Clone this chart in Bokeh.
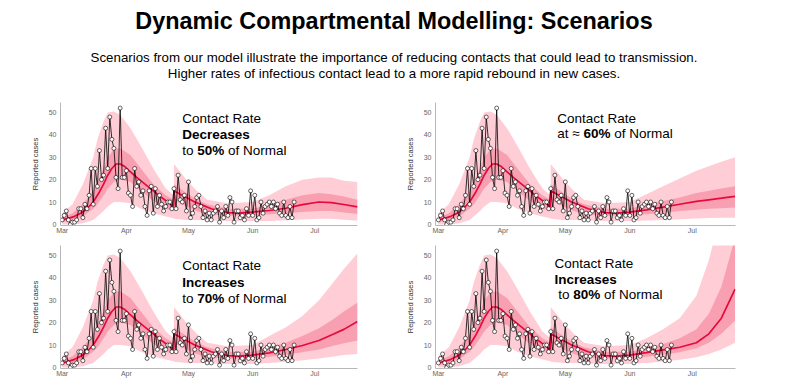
from bokeh.plotting import figure
from bokeh.layouts import column, row
from bokeh.models import Range1d, FixedTicker, Label
from bokeh.embed import file_html
from bokeh.resources import INLINE

FONT = "Liberation Sans"

TITLE = "Dynamic Compartmental Modelling: Scenarios"
SUB1 = "Scenarios from our model illustrate the importance of reducing contacts that could lead to transmission."
SUB2 = "Higher rates of infectious contact lead to a more rapid rebound in new cases."

# x axis: days since 1 March
month_ticks = [0, 31, 61, 92, 122]
month_labels = ["Mar", "Apr", "May", "Jun", "Jul"]
y_ticks = [0, 10, 20, 30, 40, 50]

# observed daily reported cases (1 Mar - 21 Jun)
obs_cases = [2, 4, 6, 2, 0, 1, 1, 2, 7, 7,
             3, 9, 7, 13, 25, 9, 25, 17, 33, 20,
             22, 43, 25, 48, 38, 34, 21, 16, 52, 21,
             21, 24, 14, 13, 8, 25, 17, 19, 13, 15,
             8, 4, 15, 17, 5, 16, 8, 13, 9, 6,
             8, 10, 10, 7, 16, 7, 22, 11, 10, 13,
             6, 19, 3, 5, 8, 12, 13, 8, 3, 6,
             2, 5, 2, 5, 6, 8, 1, 6, 3, 8,
             4, 12, 10, 1, 6, 6, 3, 4, 2, 7,
             4, 15, 4, 13, 2, 3, 10, 5, 8, 9,
             10, 8, 10, 7, 9, 5, 4, 10, 4, 3,
             8, 3, 10]
obs_days = list(range(len(obs_cases)))

# fitted part shared by all scenarios (model bands)
band_days = [0, 5, 10, 15, 17, 20, 22, 25, 28, 33, 38, 44, 50, 53.9, 54, 60, 65, 70, 80]
outer_hi_fit = [5, 9, 18, 30, 38, 46, 50, 50.5, 49, 43, 35, 25, 16, 13, 27, 20, 15, 11, 9.5]
inner_hi_fit = [3, 5, 9, 15, 19, 25, 30, 33.5, 34, 31, 25, 18, 13, 11, 18, 14, 11, 9, 7]
inner_lo_fit = [1, 2, 3.5, 7, 9, 13, 16, 19, 20, 19, 15, 10.5, 7, 6, 11, 8, 6, 4.5, 4]
outer_lo_fit = [0, 0, 0.5, 2, 3.5, 6, 8, 10, 10, 9.5, 7, 5, 3.5, 2.7, 2.5, 2, 2, 1.8, 1.5]

median_days = [0, 3, 6, 9, 12, 15, 18, 20, 22, 24, 26, 28, 30, 33, 36, 40, 44, 48, 52,
               53.9, 54, 57, 60, 64, 68, 72, 76, 80, 85]
median_fit = [2, 2.7, 3.6, 5, 7, 10, 14.5, 18, 22, 25, 27, 27, 26, 23.5, 21, 18, 15, 12, 9.3,
              8, 15, 13.5, 12, 10, 8.5, 7, 6, 5.3, 5]

# projections per scenario
tail_days = [92, 100, 108, 116, 124, 130, 136, 142.6]

s50_median = [5.5, 6.2, 7.2, 8.8, 10, 9.7, 8.9, 7.8]
s50_outer_hi = [10, 13, 17, 20, 21, 21, 19.5, 19]
s50_inner_hi = [7, 9, 11, 13, 14, 13.5, 12.5, 11]
s50_inner_lo = [4, 4.5, 5, 5.5, 6, 6, 5.3, 4.6]
s50_outer_lo = [1.5, 1.5, 1.8, 2.2, 2.5, 2.5, 2.1, 1.6]

s60_median = [5.5, 6.5, 7.7, 9, 10.3, 11, 11.7, 12.5]
s60_outer_hi = [10, 13.5, 17, 20.5, 24, 26, 28, 30]
s60_inner_hi = [7, 9, 10.5, 12, 14, 15, 16, 17]
s60_inner_lo = [4, 4.5, 5.2, 6, 6.5, 7, 7.2, 7.5]
s60_outer_lo = [1.5, 1.7, 2, 2.3, 2.6, 2.8, 3, 3]

s70_median = [5.5, 6.5, 8, 9.8, 12, 14.5, 17, 20.5]
s70_outer_hi = [10, 14, 18, 23, 30, 37, 44, 51]
s70_inner_hi = [7, 9, 11, 14, 17.5, 21, 25, 29]
s70_inner_lo = [4, 4.8, 5.7, 6.8, 8, 9.5, 10.8, 12]
s70_outer_lo = [1.5, 2, 2.5, 3.2, 4, 4.8, 5.5, 6]

s80_median = [5.5, 6.6, 7.8, 9, 11, 15, 22, 35]
s80_outer_hi = [10, 13, 17, 22, 32, 48, 70, 100]
s80_inner_hi = [7, 8.5, 10.5, 13, 17, 24, 36, 58]
s80_inner_lo = [4, 4.8, 5.7, 6.8, 8.5, 11, 15, 21]
s80_outer_lo = [1.5, 2, 2.6, 3.4, 4.5, 6, 8, 11]

OUTER_COL = "#ffcdd6"
INNER_COL = "#f8a0b2"
LINE_COL = "#e8093a"
AXIS_COL = "#b8b8b8"
LABEL_COL = "#666666"

FRAME_H = 123
Y0, Y1 = -0.5, 54.5
TXT = 13.5
SPACE = 0.278 * TXT


def panel(med, ohi, ihi, ilo, olo, frame_left, frame_top, width, mbl, mbr, mbt,
          x0, x1, lines):
    p = figure(frame_width=width, frame_height=FRAME_H,
               x_range=Range1d(x0, x1), y_range=Range1d(Y0, Y1),
               output_backend="svg", toolbar_location=None,
               min_border_left=mbl, min_border_right=mbr,
               min_border_top=mbt, min_border_bottom=13,
               background_fill_color="white", border_fill_color="white")
    p.outline_line_color = None
    p.grid.visible = False

    bd = band_days + tail_days
    p.varea(x=bd, y1=outer_lo_fit + olo, y2=outer_hi_fit + ohi, fill_color=OUTER_COL)
    p.varea(x=bd, y1=inner_lo_fit + ilo, y2=inner_hi_fit + ihi, fill_color=INNER_COL)
    p.line(median_days + tail_days, median_fit + med, line_color=LINE_COL, line_width=1.7)
    p.line(obs_days, obs_cases, line_color="black", line_width=0.8)
    p.scatter(obs_days, obs_cases, size=4.0, fill_color="white", line_color="black",
              line_width=0.6)

    p.xaxis.ticker = FixedTicker(ticks=month_ticks)
    p.xaxis.major_label_overrides = {t: l for t, l in zip(month_ticks, month_labels)}
    p.yaxis.ticker = FixedTicker(ticks=y_ticks)
    for ax in (p.xaxis[0], p.yaxis[0]):
        ax.axis_line_color = AXIS_COL
        ax.major_tick_line_color = None
        ax.minor_tick_line_color = None
        ax.major_tick_out = 0
        ax.major_tick_in = 0
        ax.minor_tick_out = 0
        ax.minor_tick_in = 0
        ax.major_label_text_font = FONT
        ax.major_label_text_font_size = "7px"
        ax.major_label_text_color = LABEL_COL
    p.xaxis.major_label_standoff = 1
    p.yaxis.major_label_standoff = 4
    p.yaxis.axis_label = "Reported cases"
    p.yaxis.axis_label_text_font = FONT
    p.yaxis.axis_label_text_font_size = "7.5px"
    p.yaxis.axis_label_text_font_style = "normal"
    p.yaxis.axis_label_text_color = "#333333"
    p.yaxis.axis_label_standoff = 6

    def to_data(px, py):
        dx = x0 + (px - frame_left) / width * (x1 - x0)
        dy = Y1 - (py - frame_top) / FRAME_H * (Y1 - Y0)
        return dx, dy

    for (px, py, segs) in lines:
        dx, dy = to_data(px, py)
        for (txt, bold, off) in segs:
            p.add_layout(Label(x=dx, y=dy, x_offset=off, text=txt,
                               text_font=FONT, text_font_size=f"{TXT}px",
                               text_font_style="bold" if bold else "normal",
                               text_color="black", text_align="left",
                               text_baseline="middle"))
    return p


# header
HDR_H = 96
hdr = figure(frame_width=787 - 16, frame_height=HDR_H, x_range=Range1d(0, 771),
             y_range=Range1d(0, HDR_H),
             output_backend="svg", toolbar_location=None, min_border=0,
             x_axis_type=None, y_axis_type=None)
hdr.outline_line_color = None
hdr.grid.visible = False
hdr.add_layout(Label(x=393.5, y=HDR_H - 20, text=TITLE, text_font=FONT, text_font_size="23.4px",
                     text_font_style="bold", text_align="center", text_baseline="middle",
                     text_color="black"))
hdr.add_layout(Label(x=393.5, y=HDR_H - 57, text=SUB1, text_font=FONT, text_font_size="13.3px",
                     text_align="center", text_baseline="middle", text_color="black"))
hdr.add_layout(Label(x=393.5, y=HDR_H - 73, text=SUB2, text_font=FONT, text_font_size="13.3px",
                     text_align="center", text_baseline="middle", text_color="black"))

# text segments: (page x, page y, [(text, bold, x offset)])
to_w = (0.278 + 0.556 + 0.278) * TXT       # "to "
pct_w = (0.556 + 0.556 + 0.889) * TXT     # "50%" bold
at_w = (0.556 + 0.278 + 0.278 + 0.549 + 0.278) * TXT  # "at ≈ "
tl_lines = [(181.7, 117.5, [("Contact Rate", False, 0)]),
            (181.7, 133.5, [("Decreases", True, 0)]),
            (181.7, 149.5, [("to", False, 0), ("50%", True, to_w),
                            ("of Normal", False, to_w + pct_w + SPACE)])]
tr_lines = [(556.7, 117.5, [("Contact Rate", False, 0)]),
            (556.7, 133.0, [("at \u2248", False, 0), ("60%", True, at_w),
                            ("of Normal", False, at_w + pct_w + SPACE)])]
bl_lines = [(181.7, 265.0, [("Contact Rate", False, 0)]),
            (181.7, 281.5, [("Increases", True, 0)]),
            (181.7, 297.5, [("to", False, 0), ("70%", True, to_w),
                            ("of Normal", False, to_w + pct_w + SPACE)])]
br_lines = [(554.0, 262.5, [("Contact Rate", False, 0)]),
            (554.0, 278.5, [("Increases", True, 0)]),
            (554.0, 293.5, [("to", False, SPACE), ("80%", True, SPACE + to_w),
                            ("of Normal", False, SPACE + to_w + pct_w + SPACE)])]

p1 = panel(s50_median, s50_outer_hi, s50_inner_hi, s50_inner_lo, s50_outer_lo,
           60, 102, 297, 60, 36, 6, -0.8, 142.6, tl_lines)
p2 = panel(s60_median, s60_outer_hi, s60_inner_hi, s60_inner_lo, s60_outer_lo,
           435, 102, 300, 42, 8, 6, -1.4, 142.8, tr_lines)
p3 = panel(s70_median, s70_outer_hi, s70_inner_hi, s70_inner_lo, s70_outer_lo,
           60, 245, 297, 60, 36, 7, -0.8, 142.6, bl_lines)
p4 = panel(s80_median, s80_outer_hi, s80_inner_hi, s80_inner_lo, s80_outer_lo,
           435, 245, 300, 42, 8, 7, -1.4, 142.8, br_lines)

layout = column(hdr, row(p1, p2), row(p3, p4))
open("out.html", "w").write(file_html(layout, INLINE))
